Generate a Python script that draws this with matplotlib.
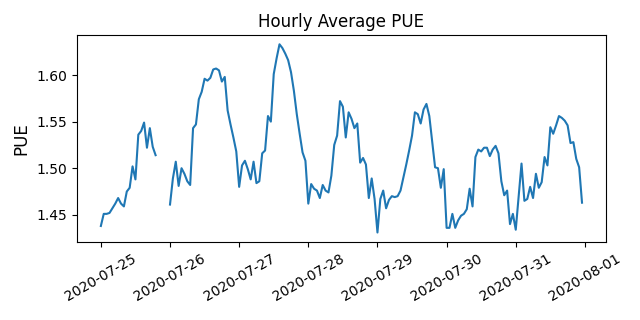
import numpy as np
import pandas as pd
import matplotlib
matplotlib.use("Agg")
import matplotlib.pyplot as plt

# hourly PUE averages, 2020-07-25 00:00 .. 2020-07-31 23:00 (nan = missing hours)
day25 = [1.438, 1.451, 1.451, 1.452, 1.457, 1.462, 1.468, 1.462, 1.459, 1.475,
         1.479, 1.502, 1.488, 1.536, 1.540, 1.549, 1.522, 1.543, 1.523, 1.514,
         np.nan, np.nan, np.nan, np.nan]
day26 = [1.461, 1.489, 1.507, 1.481, 1.500, 1.494, 1.486, 1.482, 1.543, 1.547,
         1.574, 1.582, 1.596, 1.594, 1.597, 1.606, 1.607, 1.605, 1.593, 1.598,
         1.562, 1.547, 1.533, 1.518]
day27 = [1.480, 1.503, 1.508, 1.499, 1.488, 1.507, 1.484, 1.486, 1.516, 1.519,
         1.556, 1.550, 1.601, 1.618, 1.633, 1.629, 1.623, 1.616, 1.603, 1.583,
         1.558, 1.537, 1.517, 1.508]
day28 = [1.462, 1.483, 1.478, 1.476, 1.468, 1.482, 1.476, 1.474, 1.492, 1.525,
         1.535, 1.572, 1.566, 1.533, 1.560, 1.553, 1.543, 1.548, 1.506, 1.511,
         1.504, 1.468, 1.489, 1.467]
day29 = [1.431, 1.467, 1.476, 1.457, 1.466, 1.470, 1.469, 1.470, 1.476, 1.490,
         1.504, 1.519, 1.535, 1.560, 1.558, 1.548, 1.563, 1.569, 1.556, 1.528,
         1.501, 1.500, 1.479, 1.499]
day30 = [1.436, 1.436, 1.451, 1.436, 1.444, 1.449, 1.451, 1.456, 1.478, 1.459,
         1.512, 1.520, 1.518, 1.522, 1.522, 1.513, 1.520, 1.524, 1.516, 1.486,
         1.471, 1.476, 1.440, 1.451]
day31 = [1.434, 1.469, 1.505, 1.465, 1.467, 1.480, 1.468, 1.494, 1.479, 1.485,
         1.512, 1.503, 1.544, 1.537, 1.546, 1.556, 1.554, 1.551, 1.546, 1.527,
         1.528, 1.510, 1.501, 1.463]

pue = day25 + day26 + day27 + day28 + day29 + day30 + day31
times = pd.date_range("2020-07-25 00:00", periods=len(pue), freq="h")

fig, ax = plt.subplots(figsize=(6.4, 3.2), dpi=100)
ax.plot(times, pue)
ax.set_title("Hourly Average PUE")
ax.set_ylabel("PUE", fontsize=12)
plt.xticks(rotation=30)
fig.subplots_adjust(left=0.12, right=0.947, top=0.891, bottom=0.244)
fig.savefig("out.png")
